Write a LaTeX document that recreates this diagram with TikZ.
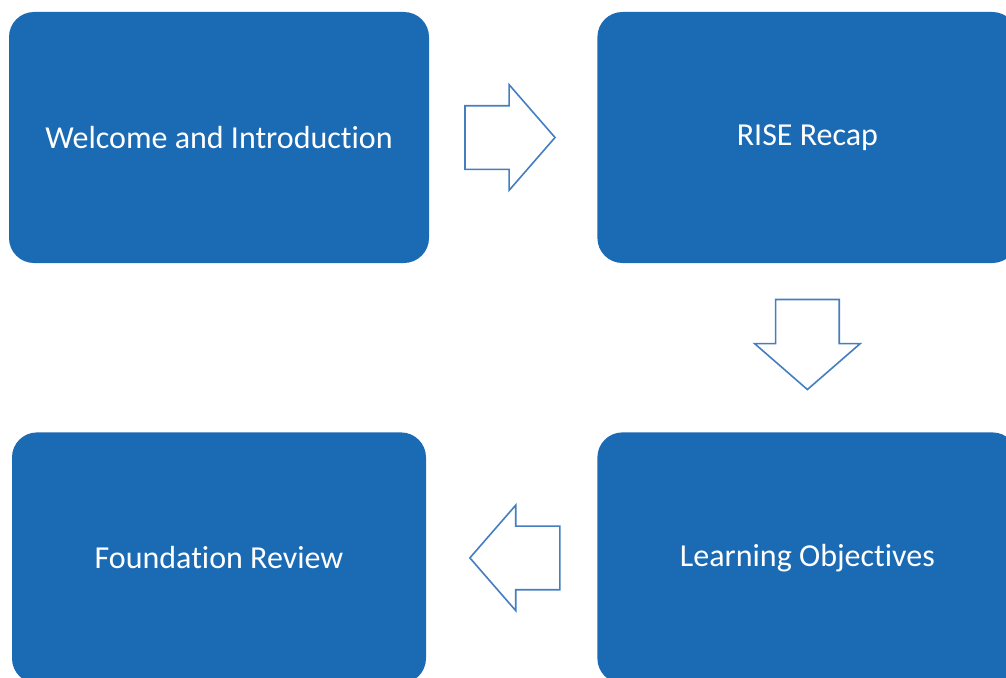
\documentclass[tikz,border=0pt]{standalone}
\usepackage{fontspec}
\setmainfont{Carlito}[Ligatures={NoCommon,NoContextual}]
\usetikzlibrary{shapes,arrows,positioning,calc}

\definecolor{stageblue}{RGB}{27,106,180}
\definecolor{arrowline}{RGB}{68,126,194}

\begin{document}
\begin{tikzpicture}[
    x=1pt, y=-1pt,
    stage/.style={rectangle, rounded corners=25pt, fill=stageblue, text=white, minimum width=420pt, minimum height=251pt, font=\fontsize{32}{38}\selectfont},
    flow/.style={single arrow, draw=arrowline, line width=1.6pt, fill=white, minimum height=90pt, single arrow head extend=21pt, single arrow tip angle=98, inner xsep=0pt, inner ysep=31pt}
]
\useasboundingbox (0,0) rectangle (1006,677);
\clip (0,0) rectangle (1006,677);

% Stages
\node[stage] (welcome) at (219,137.5) {Welcome and Introduction};
\node[stage, right=168pt of welcome] (rise) {RISE Recap};
\node[stage, below=169pt of rise] (objectives) {Learning Objectives};
\node[stage, left=171pt of objectives, minimum width=414pt] (foundation) {Foundation Review};

% Flow arrows
\node[flow, xshift=-17pt] (a1) at ($(welcome.east)!0.5!(rise.west)$) {};
\node[flow, shape border rotate=270, inner xsep=31pt, inner ysep=0pt, yshift=17pt] (a2) at ($(rise.south)!0.5!(objectives.north)$) {};
\node[flow, shape border rotate=180, xshift=17pt] (a3) at ($(objectives.west)!0.5!(foundation.east)$) {};

\end{tikzpicture}
\end{document}
